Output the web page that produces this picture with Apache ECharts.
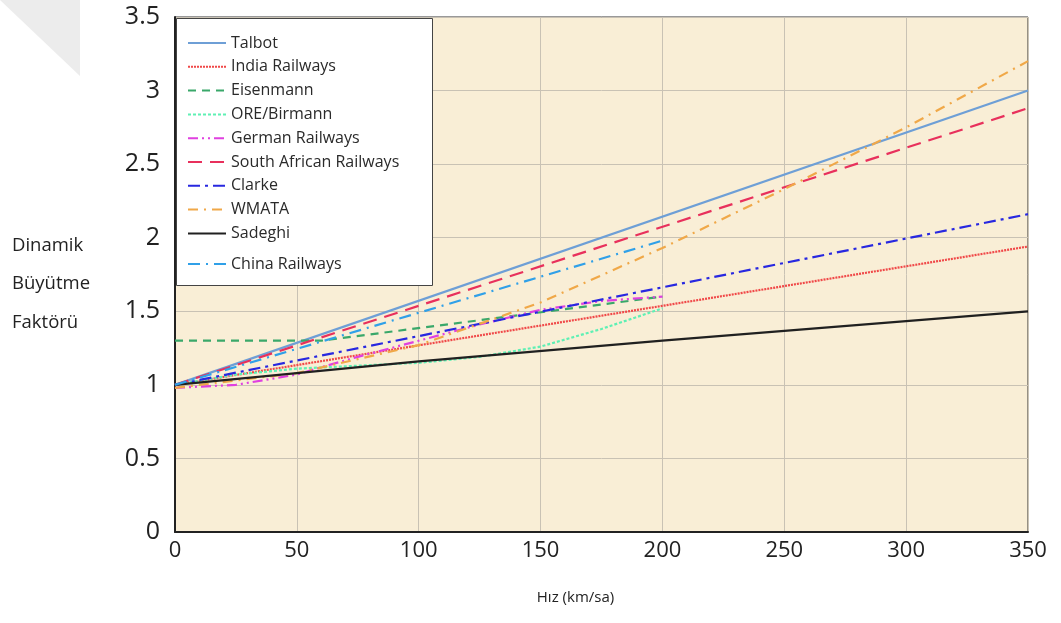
<!DOCTYPE html>
<html>
<head>
<meta charset="utf-8">
<script src="https://cdn.jsdelivr.net/npm/echarts@6/dist/echarts.min.js"></script>
<style>
  html, body { margin: 0; padding: 0; background: #fff; }
  #chart { width: 1061px; height: 623px; }
</style>
</head>
<body>
<div id="chart"></div>
<script>
// data: [speed km/h, dynamic factor]
var names = ['Talbot', 'India Railways', 'Eisenmann', 'ORE/Birmann', 'German Railways',
             'South African Railways', 'Clarke', 'WMATA', 'Sadeghi', 'China Railways'];
var talbot = [[0, 1.0], [350, 3.0]];
var india = [[0, 1.0], [350, 1.94]];
var eisenmann = [[0, 1.3], [60, 1.3], [200, 1.6]];
var ore = [[0, 1.0], [25, 1.07], [50, 1.11], [75, 1.13], [100, 1.15], [125, 1.19],
           [150, 1.26], [175, 1.38], [200, 1.52]];
var german = [[0, 0.98], [25, 1.0], [50, 1.07], [60, 1.12], [75, 1.19], [100, 1.3],
              [125, 1.41], [150, 1.51], [175, 1.57], [200, 1.6]];
var southAfrica = [[0, 1.0], [350, 2.88]];
var clarke = [[0, 1.0], [350, 2.16]];
var wmata = [[0, 0.98], [50, 1.08], [100, 1.27], [150, 1.56], [200, 1.93],
             [250, 2.33], [300, 2.75], [350, 3.2]];
var sadeghi = [[0, 1.0], [100, 1.16], [200, 1.3], [350, 1.5]];
var china = [[0, 1.0], [200, 1.98]];

var allData = [talbot, india, eisenmann, ore, german, southAfrica, clarke, wmata, sadeghi, china];
var colors = ['#6e9fd6', '#f04848', '#3aa86a', '#5ef0b4', '#e040e0',
              '#e8305c', '#2828e0', '#f0a848', '#202020', '#30a0e8'];
var dashes = ['solid', [2, 1], [8, 6], [3, 2], [10, 4, 2, 4, 2, 4],
              [14, 8], [12, 5, 3, 5], [10, 6, 2, 6], 'solid', [12, 6, 2, 6]];

var series = [];
for (var i = 0; i < names.length; i++) {
    series.push({
        name: names[i],
        type: 'line',
        data: allData[i],
        showSymbol: false,
        symbol: 'none',
        color: colors[i],
        lineStyle: { color: colors[i], width: 2.2, type: dashes[i] }
    });
}

var legendText = { fontFamily: 'Open Sans', fontSize: 16, color: '#2a2a2a', lineHeight: 16 };

var myChart = echarts.init(document.getElementById('chart'));
var option = {
    animation: false,
    backgroundColor: '#fff',
    grid: {
        left: 175, right: 33, top: 17, bottom: 91,
        show: true,
        backgroundColor: '#f9eed6',
        borderColor: '#333',
        borderWidth: 1
    },
    legend: [
        {
            data: names.slice(0, 9),
            orient: 'vertical',
            left: 182, top: 30,
            itemWidth: 38, itemHeight: 14, itemGap: 7.8,
            itemStyle: { opacity: 0 },
            textStyle: legendText,
            z: 10
        },
        {
            data: ['China Railways'],
            orient: 'vertical',
            left: 182, top: 251,
            itemWidth: 38, itemHeight: 14,
            itemStyle: { opacity: 0 },
            textStyle: legendText,
            z: 10
        }
    ],
    graphic: [
        {
            type: 'rect', left: 176, top: 18, z: 1,
            shape: { width: 256, height: 267 },
            style: { fill: '#fff', stroke: '#444', lineWidth: 1 }
        },
        {
            type: 'polygon', z: 0,
            shape: { points: [[0, 0], [80, 0], [80, 76]] },
            style: { fill: '#ececec' }
        },
        {
            type: 'text', left: 12, top: 226, z: 5,
            style: {
                text: 'Dinamik\nBüyütme\nFaktörü',
                fontFamily: 'Open Sans', fontSize: 18.5, lineHeight: 38.5, fill: '#222'
            }
        }
    ],
    xAxis: {
        type: 'value',
        min: 0, max: 350, interval: 50,
        name: 'Hız (km/sa)',
        nameLocation: 'middle',
        nameGap: 58,
        nameTextStyle: { fontFamily: 'Open Sans', fontSize: 15, color: '#222', padding: [0, 52, 0, 0] },
        axisLine: { show: true, lineStyle: { color: '#222', width: 2 } },
        axisTick: { show: false },
        axisLabel: { fontFamily: 'Open Sans', fontSize: 22, color: '#222', margin: 8 },
        splitLine: { show: true, lineStyle: { color: '#c9c2b4', width: 1 } }
    },
    yAxis: {
        type: 'value',
        min: 0, max: 3.5, interval: 0.5,
        axisLine: { show: true, lineStyle: { color: '#222', width: 2 } },
        axisTick: { show: false },
        axisLabel: { fontFamily: 'Open Sans', fontSize: 25, color: '#222', margin: 15 },
        splitLine: { show: true, lineStyle: { color: '#c9c2b4', width: 1 } }
    },
    series: series
};
myChart.setOption(option);
</script>
</body>
</html>
